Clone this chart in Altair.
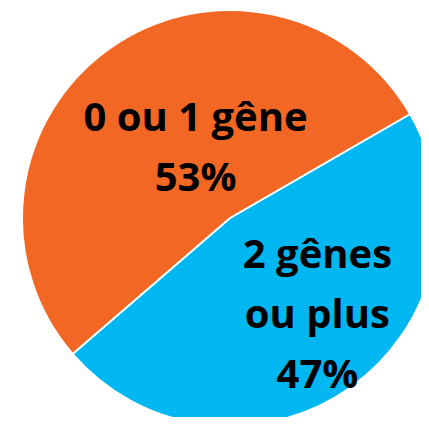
import math
import altair as alt
import pandas as pd

# Data
categories = ["2 gênes ou plus", "0 ou 1 gêne"]
label_lines = ["2 gênes\nou plus", "0 ou 1 gêne"]
shares = [47, 53]
slice_order = [0, 1]
colors = ["#00B7F1", "#F26724"]

df = pd.DataFrame({
    "category": categories,
    "label": label_lines,
    "share": shares,
    "order": slice_order,
})

start = math.radians(60)
theta_scale = alt.Scale(domain=[0, 100], range=[start, start + 2 * math.pi])
color_scale = alt.Scale(domain=categories, range=colors)

cx, cy = 222, 210

base = (
    alt.Chart(df)
    .transform_stack(stack="share", groupby=[], as_=["s0", "s1"],
                     sort=[alt.SortField("order", order="ascending")])
    .transform_calculate(mid="(datum.s0 + datum.s1) / 2",
                         txt="datum.label + '\\n' + datum.share + '%'")
)

arcs = base.mark_arc(outerRadius=208, stroke="white", strokeWidth=2).encode(
    theta=alt.Theta("s0:Q", scale=theta_scale),
    theta2="s1:Q",
    color=alt.Color("category:N", scale=color_scale, legend=None),
    x=alt.value(cx),
    y=alt.value(cy),
)

text_style = dict(font="Open Sans", fontWeight="bold", fontSize=40, color="black",
                  align="center", baseline="middle", lineBreak="\n", lineHeight=60)

text_orange = base.transform_filter(alt.datum.order == 1).mark_text(
    radius=75, dx=9, dy=-38, **text_style
).encode(
    theta=alt.Theta("mid:Q", scale=theta_scale),
    text="txt:N",
    x=alt.value(cx),
    y=alt.value(cy),
)

text_blue = base.transform_filter(alt.datum.order == 0).mark_text(
    radius=125, dx=15, dy=-64, **text_style
).encode(
    theta=alt.Theta("mid:Q", scale=theta_scale),
    text="txt:N",
    x=alt.value(cx),
    y=alt.value(cy),
)

chart = (
    alt.layer(arcs, text_orange, text_blue)
    .properties(width=413, height=409, autosize=alt.AutoSizeParams(type="none"), padding=0)
    .configure_view(strokeWidth=0)
)

chart.save("out.html", embed_options={"renderer": "svg", "actions": False})
